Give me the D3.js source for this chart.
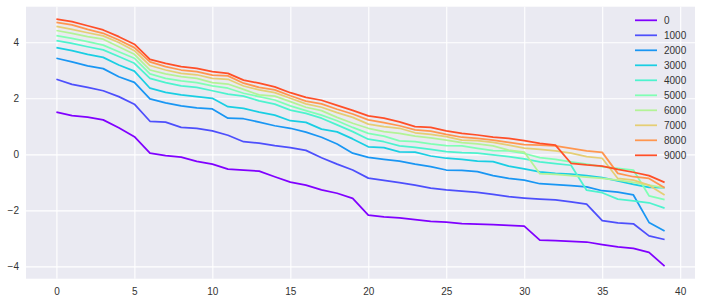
<!DOCTYPE html>
<html><head><meta charset="utf-8">
<script src="https://cdn.jsdelivr.net/npm/d3@7"></script>
<style>body{margin:0;background:#fff}svg{display:block}text{font-family:"Liberation Sans",Arial,sans-serif}</style>
</head><body>
<svg id="c" width="702" height="303"></svg>
<script>
const labels = ["0","1000","2000","3000","4000","5000","6000","7000","8000","9000"];
const xTicks = [0,5,10,15,20,25,30,35,40];
const yTicks = [-4,-2,0,2,4];
const s0 = [1.51,1.38,1.33,1.23,0.95,0.63,0.04,-0.05,-0.10,-0.25,-0.35,-0.53,-0.56,-0.60,-0.80,-0.99,-1.10,-1.27,-1.39,-1.57,-2.17,-2.23,-2.27,-2.33,-2.39,-2.42,-2.47,-2.49,-2.51,-2.54,-2.56,-3.06,-3.08,-3.11,-3.13,-3.22,-3.30,-3.36,-3.50,-3.99];
const s1 = [2.68,2.50,2.39,2.27,2.06,1.79,1.18,1.15,0.96,0.93,0.84,0.68,0.45,0.40,0.31,0.24,0.14,-0.12,-0.35,-0.56,-0.85,-0.93,-1.01,-1.10,-1.21,-1.27,-1.31,-1.36,-1.43,-1.51,-1.56,-1.60,-1.63,-1.70,-1.78,-2.37,-2.45,-2.48,-2.91,-3.04];
const s2 = [3.43,3.30,3.16,3.06,2.77,2.57,1.98,1.84,1.73,1.66,1.62,1.29,1.27,1.15,1.02,0.93,0.79,0.61,0.37,0.04,-0.11,-0.18,-0.24,-0.35,-0.44,-0.56,-0.57,-0.62,-0.76,-0.86,-0.92,-1.05,-1.08,-1.12,-1.16,-1.30,-1.35,-1.45,-2.43,-2.74];
const s3 = [3.81,3.70,3.57,3.46,3.19,2.97,2.36,2.21,2.12,2.06,2.00,1.70,1.64,1.51,1.40,1.20,1.14,0.90,0.80,0.55,0.27,0.24,0.09,0.08,-0.06,-0.14,-0.18,-0.24,-0.26,-0.42,-0.52,-0.63,-0.68,-0.71,-0.76,-0.83,-0.95,-1.07,-1.18,-1.19];
const s4 = [4.06,3.96,3.84,3.73,3.49,3.25,2.71,2.56,2.44,2.39,2.27,2.15,2.08,1.91,1.79,1.58,1.46,1.29,1.05,0.81,0.54,0.45,0.30,0.25,0.18,0.10,0.06,0.04,-0.02,-0.08,-0.16,-0.27,-0.33,-0.39,-1.28,-1.37,-1.60,-1.66,-1.73,-1.92];
const s5 = [4.24,4.14,4.02,3.90,3.66,3.43,2.87,2.71,2.62,2.56,2.44,2.36,2.18,2.06,1.94,1.73,1.56,1.40,1.20,0.96,0.75,0.65,0.48,0.45,0.37,0.31,0.30,0.21,0.13,0.12,0.03,-0.12,-0.18,-0.27,-0.35,-0.44,-0.50,-0.56,-1.48,-1.62];
const s6 = [4.42,4.32,4.20,4.11,3.84,3.57,3.01,2.87,2.77,2.71,2.56,2.51,2.32,2.12,2.08,1.88,1.68,1.56,1.32,1.11,0.93,0.81,0.75,0.65,0.59,0.51,0.42,0.37,0.30,0.15,0.08,-0.69,-0.72,-0.76,-0.81,-0.86,-0.92,-1.00,-1.10,-1.20];
const s7 = [4.57,4.46,4.34,4.23,3.99,3.70,3.17,3.01,2.89,2.84,2.71,2.68,2.44,2.30,2.20,2.00,1.80,1.68,1.49,1.32,1.08,0.99,0.93,0.77,0.71,0.63,0.51,0.49,0.43,0.33,0.22,0.18,0.12,0.04,-0.08,-0.14,-0.86,-0.92,-1.10,-1.45];
const s8 = [4.71,4.62,4.46,4.32,4.08,3.81,3.30,3.13,3.01,2.95,2.83,2.80,2.54,2.39,2.30,2.09,1.90,1.80,1.61,1.44,1.23,1.13,1.02,0.87,0.83,0.71,0.61,0.57,0.51,0.43,0.35,0.33,0.30,0.21,0.12,0.07,-0.68,-0.80,-0.86,-1.19];
const s9 = [4.83,4.74,4.59,4.44,4.20,3.93,3.39,3.25,3.13,3.07,2.95,2.89,2.65,2.54,2.41,2.20,2.03,1.93,1.75,1.57,1.37,1.29,1.16,0.99,0.96,0.84,0.75,0.69,0.61,0.57,0.49,0.39,0.33,-0.32,-0.38,-0.42,-0.54,-0.64,-0.76,-1.00];
const series = [s0,s1,s2,s3,s4,s5,s6,s7,s8,s9];

const L = 26, R = 695, T = 6.7, B = 278.7;
const svg = d3.select("#c");
const x = d3.scaleLinear().domain([-1.95, 40.95]).range([L, R]);
const y = d3.scaleLinear().domain([-4.44, 5.27]).range([B, T]);
const color = i => d3.interpolateRgbBasis ? rainbow(i/10) : "#000";
function rainbow(t){
  const r = Math.min(1, Math.abs(2*t-0.5));
  const g = Math.sin(Math.PI*t);
  const b = Math.cos(Math.PI*t/2);
  return d3.rgb(r*255, g*255, b*255).formatHex();
}

svg.append("rect").attr("x",L).attr("y",T).attr("width",R-L).attr("height",B-T).attr("fill","#eaeaf2");

const gx = svg.append("g").attr("transform",`translate(0,${B})`)
  .call(d3.axisBottom(x).tickValues(xTicks).tickSize(-(B-T)).tickPadding(9).tickFormat(d3.format("d")));
const gy = svg.append("g").attr("transform",`translate(${L},0)`)
  .call(d3.axisLeft(y).tickValues(yTicks).tickSize(-(R-L)).tickPadding(7).tickFormat(d => d < 0 ? "\u2212" + Math.abs(d) : d));
[gx, gy].forEach(g => {
  g.select(".domain").remove();
  g.selectAll(".tick line").attr("stroke","#fff").attr("stroke-width",1.1);
  g.selectAll(".tick text").attr("fill","#333").style("font-size","10px");
});

const line = d3.line().x((d,i) => x(i)).y(d => y(d));
const plot = svg.append("g");
series.forEach((s,i) => {
  plot.append("path").datum(s).attr("d", line).attr("fill","none")
    .attr("stroke", rainbow(i/10)).attr("stroke-width",1.75).attr("stroke-linejoin","round");
});

const lg = svg.append("g");
labels.forEach((lab,i) => {
  const yy = 20.3 + i*15;
  lg.append("line").attr("x1",635).attr("x2",657).attr("y1",yy).attr("y2",yy)
    .attr("stroke", rainbow(i/10)).attr("stroke-width",1.75);
  lg.append("text").attr("x",664).attr("y",yy+3.6).attr("fill","#333").style("font-size","10px").text(lab);
});
</script>
</body></html>
